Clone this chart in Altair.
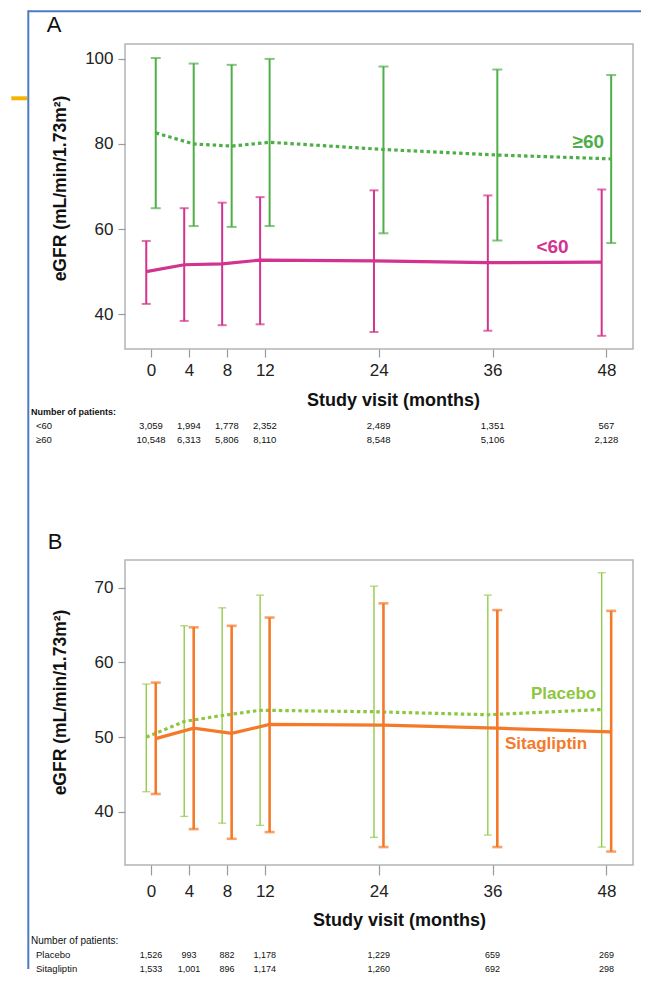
import altair as alt
import pandas as pd

FONT = "Liberation Sans"

months = [0, 4, 8, 12, 24, 36, 48]

# Panel A: eGFR by baseline eGFR group
lt60_mean = [50.0, 51.6, 51.8, 52.7, 52.5, 52.1, 52.2]
lt60_low = [42.4, 38.4, 37.4, 37.6, 35.8, 36.1, 34.9]
lt60_high = [57.2, 64.9, 66.2, 67.5, 69.1, 67.9, 69.3]
ge60_mean = [82.6, 80.0, 79.5, 80.4, 78.7, 77.4, 76.5]
ge60_low = [64.9, 60.7, 60.5, 60.7, 59.0, 57.3, 56.7]
ge60_high = [100.2, 98.9, 98.6, 100.0, 98.2, 97.5, 96.2]
n_lt60 = ["3,059", "1,994", "1,778", "2,352", "2,489", "1,351", "567"]
n_ge60 = ["10,548", "6,313", "5,806", "8,110", "8,548", "5,106", "2,128"]

# Panel B: eGFR by treatment (baseline eGFR < 60)
pla_mean = [50.0, 52.1, 52.9, 53.6, 53.4, 53.0, 53.7]
pla_low = [42.7, 39.4, 38.5, 38.2, 36.6, 36.9, 35.3]
pla_high = [57.1, 64.9, 67.3, 69.0, 70.2, 69.0, 72.0]
sit_mean = [49.8, 51.2, 50.5, 51.7, 51.6, 51.2, 50.7]
sit_low = [42.4, 37.7, 36.4, 37.3, 35.3, 35.3, 34.7]
sit_high = [57.3, 64.7, 64.9, 66.0, 67.9, 67.0, 66.9]
n_pla = ["1,526", "993", "882", "1,178", "1,229", "659", "269"]
n_sit = ["1,533", "1,001", "896", "1,174", "1,260", "692", "298"]

y_ticks_a = [40, 60, 80, 100]
y_ticks_b = [40, 50, 60, 70]

Y_TITLE = "eGFR (mL/min/1.73m\u00b2)"
X_TITLE = "Study visit (months)"

W, H = 508, 305

XSCALE = alt.Scale(domain=[-2.74, 50.8], nice=False, zero=False)


def x_axis(title_x, title_y, label_pad, tick_size):
    return alt.Axis(values=months, title=X_TITLE, titleX=title_x, titleY=title_y,
                    titleBaseline="middle", titleFontSize=18, titleFontWeight="bold",
                    labelPadding=label_pad, tickSize=tick_size, labelFontSize=17)


def y_axis(values, title_y):
    return alt.Axis(values=values, title=Y_TITLE, titleX=-65, titleY=title_y,
                    titleBaseline="middle", titleFontSize=17.5, titleFontWeight="bold",
                    labelPadding=5, tickSize=7, labelFontSize=17)


def frame(group, mean, low, high):
    return pd.DataFrame({"group": group, "month": months, "mean": mean,
                         "low": low, "high": high})


def group_layers(df, color, side, rule_w, cap_size, line_dash, xax, yscale, yax,
                 label_dx, label_dy, label_size):
    base = alt.Chart(df).transform_calculate(xd=f"datum.month + ({side})")
    X = alt.X("xd:Q", scale=XSCALE, axis=xax)

    def Y(f):
        return alt.Y(f"{f}:Q", scale=yscale, axis=yax)

    rules = base.mark_rule(color=color, strokeWidth=rule_w).encode(
        x=X, y=Y("low"), y2="high:Q")
    cap_lo = base.mark_tick(color=color, orient="horizontal", size=cap_size,
                            thickness=rule_w).encode(x=X, y=Y("low"))
    cap_hi = base.mark_tick(color=color, orient="horizontal", size=cap_size,
                            thickness=rule_w).encode(x=X, y=Y("high"))
    line_kw = dict(color=color, strokeWidth=3.2)
    if line_dash:
        line_kw["strokeDash"] = line_dash
    line = base.mark_line(**line_kw).encode(x=X, y=Y("mean"))
    label = base.transform_filter("datum.month == 48").mark_text(
        color=color, font=FONT, fontSize=label_size, fontWeight="bold",
        align="right", baseline="middle", dx=label_dx, dy=label_dy
    ).encode(x=X, y=Y("mean"), text="group:N")
    return [rules, cap_lo, cap_hi, line, label]


def table_layers(row_names, counts, row_ys, header_y, header_bold, header_size,
                 row_size, num_size, xax):
    layers = []
    hdr = alt.Chart(pd.DataFrame({"t": ["Number of patients:"]})).mark_text(
        font=FONT, fontSize=header_size, fontWeight="bold" if header_bold else "normal",
        align="left", baseline="middle", color="#111"
    ).encode(text="t:N", x=alt.value(-94), y=alt.value(header_y))
    layers.append(hdr)
    for name, cnt, ry in zip(row_names, counts, row_ys):
        lab = alt.Chart(pd.DataFrame({"t": [name]})).mark_text(
            font=FONT, fontSize=row_size, align="left", baseline="middle", color="#111"
        ).encode(text="t:N", x=alt.value(-89), y=alt.value(ry))
        nums = alt.Chart(pd.DataFrame({"month": months, "n": cnt})).mark_text(
            font=FONT, fontSize=num_size, align="center", baseline="middle", color="#111"
        ).encode(x=alt.X("month:Q", scale=XSCALE, axis=xax), y=alt.value(ry), text="n:N")
        layers += [lab, nums]
    return layers


def letter(t, dx, dy):
    return alt.Chart(pd.DataFrame({"t": [t]})).mark_text(
        font=FONT, fontSize=22, align="center", baseline="middle", color="#111"
    ).encode(text="t:N", x=alt.value(dx), y=alt.value(dy))


# ---------- Panel A ----------
ysa = alt.Scale(domain=[31.8, 103.5], nice=False, zero=False)
xax_a = x_axis(268, 51, 5, 8)
yax_a = y_axis(y_ticks_a, 144)
layers_a = []
layers_a += group_layers(frame("<60", lt60_mean, lt60_low, lt60_high), "#d1338f", -0.5,
                         2, 9, None, xax_a, ysa, yax_a, -33, -15, 19)
layers_a += group_layers(frame("\u226560", ge60_mean, ge60_low, ge60_high), "#4fae48", 0.5,
                         2, 10, [3.5, 3], xax_a, ysa, yax_a, -7, -17, 19)
layers_a += table_layers(["<60", "\u226560"], [n_lt60, n_ge60], [382, 396], 368,
                         True, 9, 9.5, 9.5, xax_a)
layers_a.append(letter("A", -71, -19))
# page decorations (blue figure border and orange marker)
layers_a.append(alt.Chart(pd.DataFrame({"k": [0]})).mark_rule(
    color="#4a7cc4", strokeWidth=2).encode(
    x=alt.value(-96.7), y=alt.value(-33.7), y2=alt.value(925)))
layers_a.append(alt.Chart(pd.DataFrame({"k": [0]})).mark_rule(
    color="#4a7cc4", strokeWidth=2).encode(
    x=alt.value(-96.7), x2=alt.value(516), y=alt.value(-32.7)))
layers_a.append(alt.Chart(pd.DataFrame({"k": [0]})).mark_rule(
    color="#f5b400", strokeWidth=4).encode(
    x=alt.value(-113.7), x2=alt.value(-98), y=alt.value(54.3)))

panel_a = alt.layer(*layers_a).properties(width=W, height=H)

# ---------- Panel B ----------
ysb = alt.Scale(domain=[32.9, 73.7], nice=False, zero=False)
xax_b = x_axis(274, 55, 8, 10)
yax_b = y_axis(y_ticks_b, 142)
layers_b = []
layers_b += group_layers(frame("Placebo", pla_mean, pla_low, pla_high), "#8dc63f", -0.5,
                         1.3, 8, [3.5, 3], xax_b, ysb, yax_b, -5.5, -16, 17)
layers_b += group_layers(frame("Sitagliptin", sit_mean, sit_low, sit_high), "#f47a2a", 0.5,
                         2.6, 10, None, xax_b, ysb, yax_b, -24, 12, 17)
layers_b += table_layers(["Placebo", "Sitagliptin"], [n_pla, n_sit], [395, 409], 381,
                         False, 10, 9.5, 9, xax_b)
layers_b.append(letter("B", -70, -18))

panel_b = alt.layer(*layers_b).properties(width=W, height=H)

chart = alt.vconcat(panel_a, panel_b, spacing=211, bounds="flush").properties(
    padding={"left": 0, "top": 0, "right": 0, "bottom": 0}
).configure_view(
    stroke="#b4b4b4", strokeWidth=1.5
).configure_axis(
    domain=False, grid=False, tickColor="#9a9a9a", tickWidth=1.2,
    labelColor="#222", titleColor="#111", labelFont=FONT, titleFont=FONT
)

chart.save("out.html", embed_options={"renderer": "svg", "actions": False})
